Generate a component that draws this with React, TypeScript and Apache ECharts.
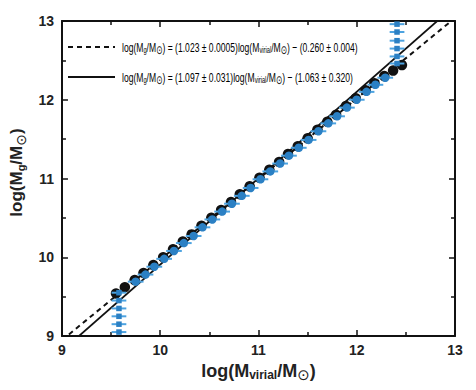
import React, { useEffect, useRef } from "react";
import * as echarts from "echarts";

// Black circles (x = log Mvirial, y = log Mg), with horizontal error
const blackX = [9.55, 9.64, 9.74, 9.83, 9.93, 10.03, 10.13, 10.23, 10.32, 10.42, 10.52, 10.62, 10.72, 10.81, 10.91, 11.01, 11.11, 11.21, 11.30, 11.40, 11.50, 11.60, 11.70, 11.79, 11.89, 11.99, 12.09, 12.18, 12.28, 12.37, 12.46];
const blackY = [9.54, 9.62, 9.71, 9.80, 9.90, 10.00, 10.10, 10.20, 10.29, 10.40, 10.50, 10.60, 10.70, 10.80, 10.90, 11.01, 11.11, 11.21, 11.31, 11.41, 11.51, 11.62, 11.72, 11.81, 11.92, 12.02, 12.12, 12.21, 12.30, 12.37, 12.44];
const blackErr = 0.05;

// Blue circles with horizontal error bars
const blueX = [9.75, 9.85, 9.94, 10.04, 10.14, 10.24, 10.34, 10.43, 10.53, 10.63, 10.73, 10.83, 10.92, 11.02, 11.12, 11.22, 11.31, 11.41, 11.51, 11.61, 11.71, 11.80, 11.90, 12.00, 12.10, 12.19, 12.29];
const blueY = [9.69, 9.78, 9.88, 9.98, 10.08, 10.18, 10.27, 10.38, 10.48, 10.58, 10.68, 10.78, 10.88, 10.99, 11.09, 11.19, 11.29, 11.39, 11.49, 11.60, 11.70, 11.79, 11.90, 12.00, 12.10, 12.19, 12.28];
const blueErr = 0.08;

// Blue squares (vertical columns at both ends)
const sqLowX = 9.58;
const sqLowY = [9.05, 9.15, 9.25, 9.35, 9.45, 9.55];
const sqHighX = 12.41;
const sqHighY = [12.46, 12.55, 12.65, 12.75, 12.86, 12.96];
const sqErr = 0.075;

// Fits: y = a*x - b
const fitDashed = { a: 1.023, b: 0.26 };
const fitSolid = { a: 1.097, b: 1.063 };

const xTicks = [9, 10, 11, 12, 13];
const yTicks = [9, 10, 11, 12, 13];

const BLUE = "#2b80c4";
const BLUE_BAR = "#4da3e0";

function errBars(color: string, width: number) {
  return (params: any, api: any) => {
    const x = api.value(0);
    const y = api.value(1);
    const e = api.value(2);
    const p1 = api.coord([x - e, y]);
    const p2 = api.coord([x + e, y]);
    return {
      type: "line",
      shape: { x1: p1[0], y1: p1[1], x2: p2[0], y2: p2[1] },
      style: { stroke: color, lineWidth: width },
    };
  };
}

export default function App() {
  const ref = useRef<HTMLDivElement>(null);
  useEffect(() => {
    if (!ref.current) return;
    const chart = echarts.init(ref.current, undefined, { renderer: "svg" });
    const blackData = blackX.map((x, i) => [x, blackY[i], blackErr]);
    const blueData = blueX.map((x, i) => [x, blueY[i], blueErr]);
    const sqData = [
      ...sqLowY.map((y) => [sqLowX, y, sqErr]),
      ...sqHighY.map((y) => [sqHighX, y, sqErr]),
    ];
    const line = (f: { a: number; b: number }) => [
      [xTicks[0], f.a * xTicks[0] - f.b],
      [xTicks[xTicks.length - 1], f.a * xTicks[xTicks.length - 1] - f.b],
    ];
    const font = "Liberation Sans";
    const rich = {
      n: { fontSize: 18, fontWeight: "bold", fontFamily: font, color: "#222" },
      s: { fontSize: 12, fontWeight: "bold", fontFamily: font, color: "#222", padding: [8, 0, 0, 0] },
      o: { fontSize: 15, fontFamily: "DejaVu Sans", color: "#222", padding: [8, 0, 0, 0] },
    };
    const richY = {
      n: { fontSize: 17, fontWeight: "bold", fontFamily: font, color: "#222" },
      s: { fontSize: 11, fontWeight: "bold", fontFamily: font, color: "#222", padding: [8, 0, 0, 0] },
      o: { fontSize: 14, fontFamily: "DejaVu Sans", color: "#222", padding: [8, 0, 0, 0] },
    };
    const axisCommon = {
      min: 9,
      max: 13,
      interval: 1,
      splitLine: { show: false },
      axisLine: { show: true, lineStyle: { color: "#111", width: 2 } },
      axisTick: { show: true, inside: true, length: 6, lineStyle: { color: "#111", width: 1.5 } },
      minorTick: { show: true, splitNumber: 2, length: 4, lineStyle: { color: "#111", width: 1.5 } },
    };
    const legRich = {
      n: { fontSize: 13.5, fontFamily: font, color: "#222" },
      s: { fontSize: 9, fontFamily: font, color: "#222", padding: [6, 0, 0, 0] },
      o: { fontSize: 12, fontFamily: "DejaVu Sans", color: "#222", padding: [6, 0, 0, 0] },
    };
    const leg1 = "{n|log(M}{s|g}{n|/M}{o|⊙}{n|) = (1.023 ± 0.0005)log(M}{s|virial}{n|/M}{o|⊙}{n|) − (0.260 ± 0.004)}";
    const leg2 = "{n|log(M}{s|g}{n|/M}{o|⊙}{n|) = (1.097 ± 0.031)log(M}{s|virial}{n|/M}{o|⊙}{n|) − (1.063 ± 0.320)}";
    chart.setOption({
      animation: false,
      grid: { left: 61, right: 21, top: 21, bottom: 54 },
      xAxis: [
        {
          type: "value",
          ...axisCommon,
          position: "bottom",
          axisLabel: { fontSize: 14, fontWeight: "bold", fontFamily: font, color: "#222", margin: 7, formatter: (v: number) => (xTicks.includes(v) ? String(v) : "") },
          name: "{n|log(M}{s|virial}{n|/M}{o|⊙}{n|)}",
          nameLocation: "middle",
          nameGap: 23,
          nameTextStyle: { rich },
        },
        {
          type: "value",
          ...axisCommon,
          position: "top",
          axisLabel: { show: false },
        },
      ],
      yAxis: [
        {
          type: "value",
          ...axisCommon,
          position: "left",
          axisLabel: { fontSize: 14, fontWeight: "bold", fontFamily: font, color: "#222", margin: 8, formatter: (v: number) => (yTicks.includes(v) ? String(v) : "") },
          name: "{n|log(M}{s|g}{n|/M}{o|⊙}{n|)}",
          nameLocation: "middle",
          nameGap: 27,
          nameTextStyle: { rich: richY, padding: [0, 0, 0, 12] },
        },
        {
          type: "value",
          ...axisCommon,
          position: "right",
          axisLabel: { show: false },
        },
      ],
      graphic: [
        { type: "line", shape: { x1: 68, y1: 47, x2: 115, y2: 47 }, style: { stroke: "#111", lineWidth: 2, lineDash: [5, 4] } },
        { type: "line", shape: { x1: 68, y1: 77, x2: 115, y2: 77 }, style: { stroke: "#111", lineWidth: 1.8 } },
        { type: "text", x: 122, y: 47, scaleX: 0.635, style: { text: leg1, rich: legRich, verticalAlign: "middle" } },
        { type: "text", x: 122, y: 77, scaleX: 0.635, style: { text: leg2, rich: legRich, verticalAlign: "middle" } },
      ],
      series: [
        {
          type: "line",
          data: line(fitDashed),
          showSymbol: false,
          clip: true,
          lineStyle: { color: "#111", width: 2, type: [5, 4] },
          z: 1,
        },
        {
          type: "line",
          data: line(fitSolid),
          showSymbol: false,
          clip: true,
          lineStyle: { color: "#111", width: 1.8 },
          z: 1,
        },
        {
          type: "custom",
          data: blackData,
          encode: { x: 0, y: 1 },
          renderItem: errBars("#111", 1.5),
          clip: true,
          z: 2,
        },
        {
          type: "scatter",
          data: blackData,
          symbol: "circle",
          symbolSize: 10.5,
          itemStyle: { color: "#111", opacity: 1 },
          z: 3,
        },
        {
          type: "custom",
          data: blueData,
          encode: { x: 0, y: 1 },
          renderItem: errBars(BLUE_BAR, 2),
          z: 4,
        },
        {
          type: "scatter",
          data: blueData,
          symbol: "circle",
          symbolSize: 8.5,
          itemStyle: { color: BLUE, opacity: 1 },
          z: 5,
        },
        {
          type: "custom",
          data: sqData,
          encode: { x: 0, y: 1 },
          renderItem: errBars(BLUE_BAR, 2),
          clip: true,
          z: 4,
        },
        {
          type: "scatter",
          data: sqData,
          symbol: "rect",
          symbolSize: 5.5,
          itemStyle: { color: BLUE, opacity: 1 },
          z: 5,
        },
      ],
    });
    return () => chart.dispose();
  }, []);
  return (
    <div
      ref={ref}
      style={{ position: "fixed", left: 0, top: 0, width: 476, height: 390, background: "#fff" }}
    />
  );
}
